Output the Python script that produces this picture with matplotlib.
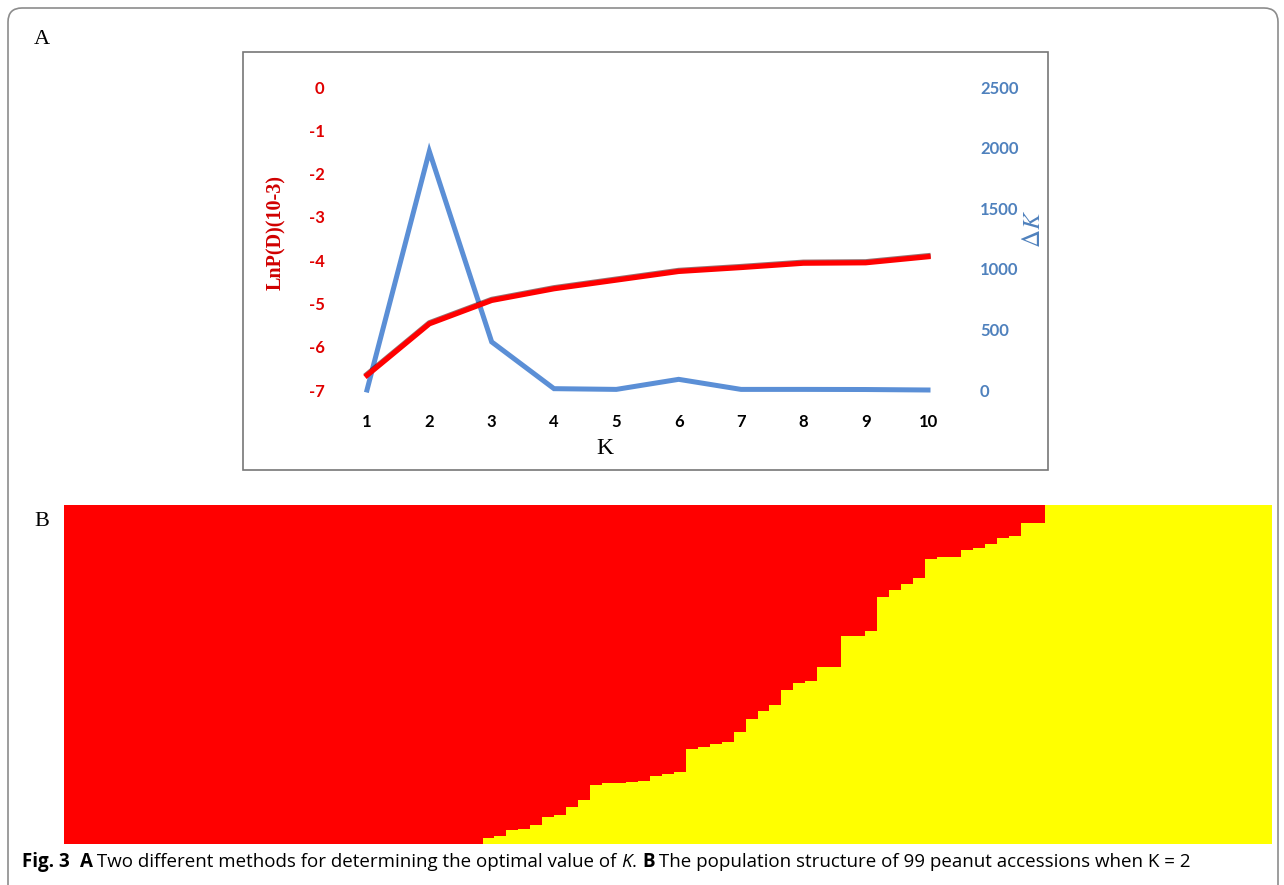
import matplotlib
matplotlib.use('Agg')
import matplotlib.pyplot as plt
import matplotlib.patheffects as pe
from matplotlib import font_manager
from matplotlib.patches import FancyBboxPatch, Rectangle
import numpy as np

# ---- data ----
k_values = [1, 2, 3, 4, 5, 6, 7, 8, 9, 10]
lnp = [-6.66, -5.47, -4.93, -4.66, -4.46, -4.26, -4.17, -4.07, -4.06, -3.92]
delta_k = [0, 1969, 397, 11, 5, 88, 5, 5, 4, 0]
left_ticks = [0, -1, -2, -3, -4, -5, -6, -7]
right_ticks = [0, 500, 1000, 1500, 2000, 2500]

# membership in sub-group 1 (red) for each accession, sorted
full_red = [1.0] * 35
mixed = [0.983, 0.978, 0.960, 0.956, 0.945, 0.921, 0.916, 0.893, 0.871, 0.827,
         0.822, 0.820, 0.819, 0.814, 0.801, 0.796, 0.790,
         0.722, 0.714, 0.706, 0.701, 0.672, 0.632, 0.609, 0.592, 0.547, 0.525, 0.520,
         0.478, 0.478, 0.387, 0.387, 0.372,
         0.271, 0.251, 0.233, 0.217,
         0.160, 0.155, 0.155, 0.133, 0.126, 0.116, 0.098, 0.091, 0.054, 0.054]
full_yellow = [0.0] * 19
q1 = np.array(full_red + mixed + full_yellow)
q2 = 1 - q1

W, H = 1284, 885
fig = plt.figure(figsize=(12.84, 8.85), dpi=100)

# background axes in pixel units for frames and loose text
bg = fig.add_axes([0, 0, 1, 1], zorder=-5)
bg.set_xlim(0, W)
bg.set_ylim(H, 0)
bg.axis('off')

bg.add_patch(FancyBboxPatch((8, 8), 1270, 900, boxstyle='round,pad=0,rounding_size=14',
                            fc='white', ec='#8c8c8c', lw=1.2))
bg.add_patch(Rectangle((243, 52), 805, 418, fc='white', ec='#777777', lw=1.2))

serif = 'Liberation Serif'
bg.text(42, 40, 'A', fontsize=16, family=serif, ha='center', va='center')
bg.text(42, 522, 'B', fontsize=16, family=serif, ha='center', va='center')


def axes_px(left, top, right, bottom):
    return [left / W, 1 - bottom / H, (right - left) / W, (bottom - top) / H]


# ---- panel A ----
ax_l, ax_t, ax_r, ax_b = 340, 80, 955, 400
x1_px, x10_px = 367, 928
ytop_px, ybot_px = 87, 390
ax = fig.add_axes(axes_px(ax_l, ax_t, ax_r, ax_b))
ax.patch.set_alpha(0)
ux = (x10_px - x1_px) / 9
ax.set_xlim(1 - (x1_px - ax_l) / ux, 10 + (ax_r - x10_px) / ux)
uy = (ybot_px - ytop_px) / 7
ax.set_ylim(-7 - (ax_b - ybot_px) / uy, 0 + (ytop_px - ax_t) / uy)

red = '#FF0000'
blue = '#5B8FD6'

ax2 = ax.twinx()
uy2 = (ybot_px - ytop_px) / 2500
ax2.set_ylim(0 - (ax_b - ybot_px) / uy2, 2500 + (ytop_px - ax_t) / uy2)

ax2.plot(k_values, delta_k, color=blue, lw=3.6, solid_joinstyle='miter', zorder=2)
ax.set_zorder(ax2.get_zorder() + 1)
ax.plot(k_values, lnp, color=red, lw=3.8, zorder=3,
        path_effects=[pe.SimpleLineShadow(offset=(0, 0.7), shadow_color='#400000', alpha=0.55),
                      pe.Normal()])

for a in (ax, ax2):
    for s in a.spines.values():
        s.set_visible(False)

tick_font = 'Lato'
ax.set_xticks(k_values)
ax.set_xticklabels([str(k) for k in k_values], fontsize=12, fontweight='bold', family=tick_font)
ax.set_yticks(left_ticks)
ax.set_yticklabels([str(v) for v in left_ticks], fontsize=12, fontweight='bold',
                   family=tick_font, color='#E00000')
ax.tick_params(axis='x', length=0, pad=10)
ax.tick_params(axis='y', length=0, pad=11)
ax2.set_yticks(right_ticks)
ax2.set_yticklabels([str(v) for v in right_ticks], fontsize=12, fontweight='bold',
                    family=tick_font, color='#4F81BD')
ax2.tick_params(axis='y', length=0, pad=18)

bg.text(276, 232, 'LnP(D)(10-3)', fontsize=14.5, fontweight='bold', family=serif,
        color='#D00000', rotation=90, ha='center', va='center')
bg.text(1033, 229, r'$\Delta K$', fontsize=18, math_fontfamily='stix', color='#4F81BD',
        rotation=90, ha='center', va='center')
bg.text(605, 448, 'K', fontsize=17, family=serif, ha='center', va='center')

# ---- panel B ----
axb = fig.add_axes(axes_px(64, 505, 1271.7, 843.5))
idx = np.arange(len(q1))
axb.bar(idx, q2, width=1.0, color='#FFFF00', edgecolor='none', align='center')
axb.bar(idx, q1, bottom=q2, width=1.0, color='#FF0000', edgecolor='none', align='center')
axb.set_xlim(-0.5, len(q1) - 0.5)
axb.set_ylim(0, 1)
axb.axis('off')

bg.text(357, 660, 'Sub-group 1', fontsize=21, family=serif, ha='center', va='center')
bg.text(1058, 660, 'Sub-group 2', fontsize=21, family=serif, ha='center', va='center')

# ---- caption ----
installed = {f.name for f in font_manager.fontManager.ttflist}
cap_family = 'Liberation Sans Narrow' if 'Liberation Sans Narrow' in installed else 'Open Sans'
pieces = [('Fig. 3', 'bold', 'normal'), ('  ', 'normal', 'normal'), ('A', 'bold', 'normal'),
          (' Two different methods for determining the optimal value of ', 'normal', 'normal'),
          ('K', 'normal', 'italic'), ('. ', 'normal', 'normal'), ('B', 'bold', 'normal'),
          (' The population structure of 99 peanut accessions when K = 2', 'normal', 'normal')]
renderer = fig.canvas.get_renderer()


def draw_caption(fs):
    x = 22
    made = []
    for txt, wt, st in pieces:
        t = bg.text(x, 862, txt, fontsize=fs, fontweight=wt, fontstyle=st,
                    family=cap_family, ha='left', va='center')
        made.append(t)
        x += t.get_window_extent(renderer).width
    return made, x - 22


made, width = draw_caption(13)
for t in made:
    t.remove()
draw_caption(13 * 1162 / width)

fig.savefig('out.png', dpi=100)
